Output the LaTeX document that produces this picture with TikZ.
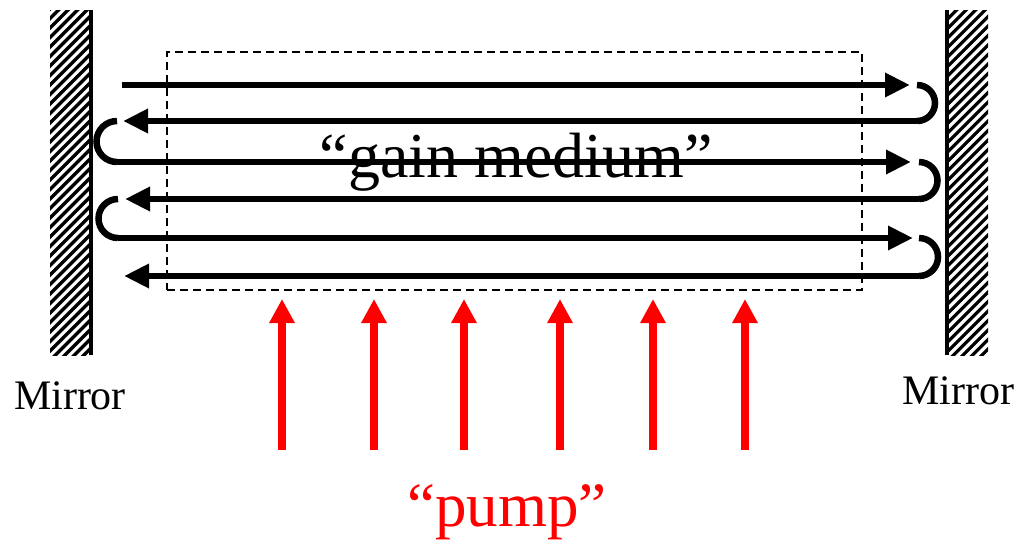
\documentclass[tikz,border=0pt]{standalone}
\usepackage{fontspec}
\setmainfont{Liberation Serif}
\usetikzlibrary{arrows.meta}
\definecolor{pumpred}{RGB}{255,0,0}
\tikzset{
  beam/.style={line width=6.5pt, -{Triangle[length=25pt,width=23pt]}},
  turn/.style={line width=6.5pt},
  pumparrow/.style={pumpred, line width=8pt, -{Triangle[length=24pt,width=24pt]}},
  mirroredge/.style={line width=4pt},
  hatch/.style={line width=3.2pt},
  label/.style={font=\fontsize{42}{42}\selectfont, inner sep=0pt},
}
\begin{document}
\begin{tikzpicture}[x=1pt,y=-1pt]
\useasboundingbox (0,0) rectangle (1017,541);
% mirrors
\begin{scope}
\clip (50,10) rectangle (90,355);
\foreach \k in {0,...,42} {
  \draw[hatch] (40,{\k*9.5}) -- (100,{\k*9.5-60});
}
\end{scope}
\draw[mirroredge] (91,10) -- (91,355);
\begin{scope}
\clip (948,10) rectangle (988,355);
\foreach \k in {0,...,42} {
  \draw[hatch] (938,{\k*9.5}) -- (998,{\k*9.5-60});
}
\end{scope}
\draw[mirroredge] (946.5,10) -- (946.5,355);
% gain medium box
\node[draw, dash pattern=on 8pt off 5pt, line width=1.5pt, minimum width=695pt, minimum height=238pt, inner sep=0pt] (box) at (514.5,171) {};
% beam coordinates
\coordinate (a1) at (122,85);  \coordinate (b1) at (910,85);
\coordinate (r1) at (917,85);
\coordinate (a2) at (917,121); \coordinate (b2) at (123,121);
\coordinate (l1) at (117,121);
\coordinate (a3) at (117,162); \coordinate (b3) at (911,162);
\coordinate (r2) at (919,162);
\coordinate (a4) at (919,199); \coordinate (b4) at (125,199);
\coordinate (l2) at (118,199);
\coordinate (a5) at (118,238); \coordinate (b5) at (913,238);
\coordinate (r3) at (919,238);
\coordinate (a6) at (919,276); \coordinate (b6) at (124,276);
\draw[beam] (a1) -- (b1);
\draw[turn] (r1) arc[start angle=-90,end angle=90,radius=18];
\draw[beam] (a2) -- (b2);
\draw[turn] (l1) arc[start angle=-90,end angle=-270,radius=20.5];
\draw[beam] (a3) -- (b3);
\draw[turn] (r2) arc[start angle=-90,end angle=90,radius=18.5];
\draw[beam] (a4) -- (b4);
\draw[turn] (l2) arc[start angle=-90,end angle=-270,radius=19.5];
\draw[beam] (a5) -- (b5);
\draw[turn] (r3) arc[start angle=-90,end angle=90,radius=19];
\draw[beam] (a6) -- (b6);
% labels
\node[font=\fontsize{64}{64}\selectfont, inner sep=0pt] (gain) at (516,162) {“gain medium”};
\node[label, anchor=base] (ml) at (70,409) {Mirror};
\node[label, anchor=base] (mr) at (958,404) {Mirror};
\node[font=\fontsize{63}{63}\selectfont, inner sep=0pt, text=pumpred, anchor=base] (pump) at (507,526) {“pump”};
% pump arrows
\foreach \x [count=\i] in {282,374,464,560,653,745} {
  \coordinate (ps\i) at (\x,450);
  \coordinate (pe\i) at (\x,299);
  \draw[pumparrow] (ps\i) -- (pe\i);
}
\end{tikzpicture}
\end{document}
